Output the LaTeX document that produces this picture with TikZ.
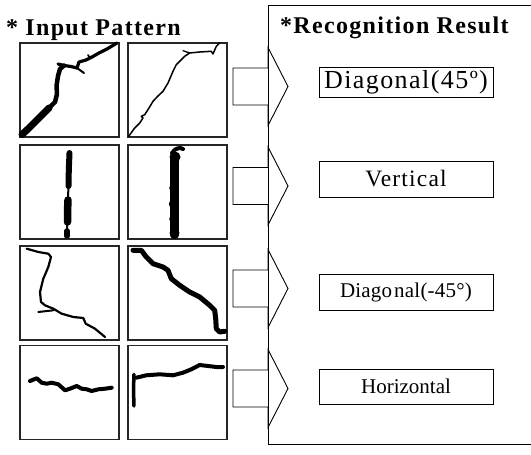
\documentclass[tikz,border=0pt]{standalone}
\usepackage{fontspec}
\setmainfont{Liberation Serif}
\begin{document}
\begin{tikzpicture}[x=1pt,y=-1pt,
  panel/.style={draw=black!85,line width=1.1pt,minimum width=99pt,minimum height=94pt,inner sep=0pt},
  crack/.style={line cap=round,line join=round,draw=black},
  result/.style={draw,line width=0.9pt,minimum width=174pt,inner sep=0pt},
  frame/.style={line width=1pt},
  arrowline/.style={line width=0.9pt,line join=miter},
  heading/.style={anchor=base west,inner sep=0pt,
    font=\fontsize{24}{26}\selectfont\bfseries\addfontfeature{LetterSpace=5.5}},
  blockarrow/.pic={\draw[arrowline] (-27.5,-18.5) -- (7.5,-18.5) -- (7.5,-39) -- (27.5,0)
      -- (7.5,39) -- (7.5,18.5) -- (-27.5,18.5) -- cycle;}
]
\useasboundingbox (0,0) rectangle (531,455);

% headings
\node[heading] (tin) at (6,35.5) {* Input Pattern};
\node[heading] (tout) at (280,34) {*Recognition Result};

% right frame, open on the right
\draw[frame] (531,5) -- (268,5) -- (268,444) -- (531,444);

% input pattern panels
\node[panel] (p11) at (69.5,90) {};
\node[panel] (p12) at (177.5,90) {};
\node[panel] (p21) at (69.5,192) {};
\node[panel] (p22) at (177.5,192) {};
\node[panel] (p31) at (69.5,293) {};
\node[panel] (p32) at (177.5,293) {};
\node[panel] (p41) at (69.5,392.5) {};
\node[panel] (p42) at (177.5,392.5) {};

% crack 1-1: thick diagonal with branches
\draw[crack,line width=7pt] (22,134.5) -- (28,129) -- (35,122) -- (42,115) -- (49,108);
\draw[crack,line width=4.5pt] (49,108) -- (55,102) -- (57,94) -- (56.5,86) -- (58,76) -- (60,69) -- (64,65.5);
\draw[crack,line width=3.2pt] (58,64) -- (64,65.5) -- (71,66.5) -- (77,68);
\draw[crack,line width=2pt] (77,68) -- (84,73);
\draw[crack,line width=3.2pt] (77,68) -- (79,62) -- (86,60) -- (92,57) -- (99,53) -- (107,49) -- (112,46) -- (117,43);
\draw[crack,line width=1.8pt] (90,58) -- (88,55);

% crack 1-2: thin diagonal
\draw[crack,line width=1.5pt] (128.7,136.3) -- (134.7,128) -- (139.7,123) -- (143,118) -- (141.3,116.3)
  -- (144.7,114.7) -- (149,108) -- (153,101.3) -- (158,96) -- (163,91.3) -- (168,83) -- (173,71.3)
  -- (176.3,64.7) -- (184.7,56.3) -- (189.7,53) -- (199.7,52) -- (211.3,51.3) -- (213,54)
  -- (216.3,46.3) -- (219.7,43);
\draw[crack,line width=1.3pt] (189.7,53) -- (183,50.7);

% crack 2-1: vertical, thinner
\draw[crack,line width=6pt] (69.5,153) -- (68.8,170) -- (68.5,186);
\draw[crack,line width=2pt] (68.5,186) -- (68,198);
\draw[crack,line width=7.5pt] (68,200) -- (67.5,212) -- (67.5,222);
\draw[crack,line width=2pt] (67.5,222) -- (67,229);
\draw[crack,line width=5.5pt] (67,231) -- (67,236);

% crack 2-2: vertical, thicker
\draw[crack,line width=8.5pt] (174.5,156) -- (174.5,235);
\draw[crack,line width=4pt] (172,153) .. controls (175,148) and (180,147) .. (183,149);
\fill (175,157) circle (5.5);
\fill (174,188) circle (4.8);
\fill (173.8,204) circle (5);
\fill (174,219) circle (4.8);
\fill (174.5,233) circle (5);

% crack 3-1: thin curve going down-right
\draw[crack,line width=2.2pt] (26.7,248.7) -- (38.3,252) -- (48.3,253.7) -- (51,257) -- (48.3,267)
  -- (43.3,278.7) -- (40,292) -- (41,302) -- (45,305.3) -- (53.3,308.7) -- (61.7,313.7)
  -- (73.3,317) -- (83.3,318) -- (85.7,323.7) -- (95,328.7) -- (105,337);
\draw[crack,line width=2pt] (38.3,312) -- (53.3,310.3);

% crack 3-2: thick diagonal going down-right
\draw[crack,line width=5pt] (133,250.3) -- (141.3,250.3) -- (146.3,257) -- (153,263.7) -- (163,267)
  -- (168,270.3) -- (171.3,278.7) -- (179.7,285.3) -- (189.7,292) -- (199.7,297) -- (209.7,305.3)
  -- (214.7,310.3) -- (215.7,318.7) -- (216.3,328.7) -- (219.7,332) -- (224.7,331.3);
\fill (132,248) -- (137,249) -- (134,253) -- cycle;

% crack 4-1: horizontal
\draw[crack,line width=4pt] (30,381) -- (36.7,378.3) -- (41.7,382.7) -- (46.7,383.7) -- (51.7,382.7)
  -- (58.3,384.3) -- (65,390.3) -- (70,388.7) -- (76.7,386) -- (81.7,388.7) -- (86.7,389.3)
  -- (91.7,391) -- (98.3,389.3) -- (105,388.7) -- (111.7,387.7);

% crack 4-2: horizontal with a vertical stub
\draw[crack,line width=3.5pt] (134,374.3) -- (133.5,390) -- (134,406);
\draw[crack,line width=4pt] (136.3,377.7) -- (146.3,375.3) -- (159.7,374.3) -- (173,375.3) -- (183,372.7)
  -- (191.3,369.3) -- (199.7,365) -- (208,366) -- (216.3,367) -- (223,367);

% block arrows
\pic (a1) at (260.5,86.5) {blockarrow};
\pic (a2) at (260.5,186) {blockarrow};
\pic (a3) at (260.5,288.5) {blockarrow};
\pic (a4) at (260.5,388.5) {blockarrow};

% recognition results
\node[result,minimum height=30pt,font=\fontsize{26}{28}\selectfont\addfontfeature{LetterSpace=5.5}]
  (r1) at (406,82.5) {Diagonal(45º)};
\node[result,minimum height=36pt,font=\fontsize{23.5}{26}\selectfont\addfontfeature{LetterSpace=5}]
  (r2) at (406,179) {Vertical};
\node[result,minimum height=36pt,font=\fontsize{21}{24}\selectfont\addfontfeature{LetterSpace=1}]
  (r3) at (406,292) {Diago\kern2pt nal(-45°)};
\node[result,minimum height=35pt,font=\fontsize{21}{24}\selectfont]
  (r4) at (406,386.5) {Horizontal};
\end{tikzpicture}
\end{document}
